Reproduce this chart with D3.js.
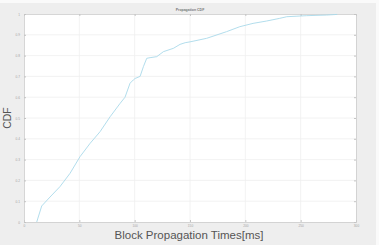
<!DOCTYPE html>
<html><head><meta charset="utf-8">
<script src="https://cdn.jsdelivr.net/npm/d3@7"></script>
<style>html,body{margin:0;padding:0;background:#fafafa;}svg{display:block;}</style>
</head><body>
<svg id="c" width="379" height="245"></svg>
<script>
const titleText = "Propagation CDF";
const xLabel = "Block Propagation Times[ms]";
const yLabel = "CDF";
const xTicks = [0, 50, 100, 150, 200, 250, 300];
const yTicks = [0, 0.1, 0.2, 0.3, 0.4, 0.5, 0.6, 0.7, 0.8, 0.9, 1];
const timesMs = [11.5, 16, 23.5, 32.5, 41.6, 50.6, 59.7, 68.7, 77.8, 86.8, 91.3, 95.8, 98.8, 100.4, 104.9, 107.9, 110.9, 113.9, 120, 126, 135, 141, 145.6, 150, 165, 183, 195, 207, 219, 231, 237.5, 255.5, 273.6, 283];
const cdfValues = [0, 0.077, 0.12, 0.17, 0.234, 0.314, 0.378, 0.434, 0.506, 0.57, 0.60, 0.667, 0.683, 0.69, 0.70, 0.747, 0.787, 0.79, 0.795, 0.819, 0.835, 0.854, 0.862, 0.866, 0.883, 0.915, 0.939, 0.955, 0.966, 0.979, 0.987, 0.992, 0.995, 0.998];

const svg = d3.select("#c");
svg.append("rect").attr("x",0).attr("y",3).attr("width",376).attr("height",242).attr("fill","#eeeeee");
const m = {l:24, t:14, r:356, b:222};
const x = d3.scaleLinear().domain([0,300]).range([m.l, m.r]);
const y = d3.scaleLinear().domain([0,1]).range([m.b, m.t]);
svg.append("rect").attr("x",m.l).attr("y",m.t).attr("width",m.r-m.l).attr("height",m.b-m.t).attr("fill","#ffffff");

// grid
svg.append("g").selectAll("line").data(xTicks.slice(1,-1)).join("line")
  .attr("x1",d=>x(d)).attr("x2",d=>x(d)).attr("y1",m.t).attr("y2",m.b)
  .attr("stroke","#efefef").attr("stroke-width",0.8);
svg.append("g").selectAll("line").data(yTicks.slice(1,-1)).join("line")
  .attr("y1",d=>y(d)).attr("y2",d=>y(d)).attr("x1",m.l).attr("x2",m.r)
  .attr("stroke","#efefef").attr("stroke-width",0.8);

// axes
const ax = (g, axis) => { g.call(axis); g.select(".domain").attr("stroke","#cccccc").attr("stroke-width",0.8); g.selectAll(".tick line").attr("stroke","#c4c4c4"); g.selectAll("text").attr("fill","#a4a4a4").attr("font-size","3.2px").attr("font-family","Liberation Sans, Arial, sans-serif"); };
svg.append("g").attr("transform",`translate(0,${m.b})`).call(g=>ax(g, d3.axisBottom(x).tickValues(xTicks).tickSize(-2).tickPadding(3).tickFormat(d3.format("d"))));
svg.append("g").attr("transform",`translate(0,${m.t})`).call(g=>ax(g, d3.axisTop(x).tickValues(xTicks).tickSize(-2).tickFormat("")));
svg.append("g").attr("transform",`translate(${m.l},0)`).call(g=>ax(g, d3.axisLeft(y).tickValues(yTicks).tickSize(-2).tickPadding(4).tickFormat(d=>d===0?"0":d===1?"1":d3.format(".1f")(d))));
svg.append("g").attr("transform",`translate(${m.r},0)`).call(g=>ax(g, d3.axisRight(y).tickValues(yTicks).tickSize(-2).tickFormat("")));

// curve
svg.append("path").datum(d3.zip(timesMs, cdfValues))
  .attr("fill","none").attr("stroke","#a9d9ea").attr("stroke-width",0.9)
  .attr("d", d3.line().x(d=>x(d[0])).y(d=>y(d[1])));

// labels
svg.append("text").attr("x",190).attr("y",11).attr("text-anchor","middle")
  .attr("font-size","3.5px").attr("font-weight","bold").attr("fill","#777").attr("font-family","Liberation Sans, Arial, sans-serif").text(titleText);
svg.append("text").attr("x",189).attr("y",239).attr("text-anchor","middle")
  .attr("font-size","11.5px").attr("fill","#555").attr("font-family","Liberation Sans, Arial, sans-serif").text(xLabel);
svg.append("text").attr("transform","translate(11,118) rotate(-90)").attr("text-anchor","middle")
  .attr("font-size","10.5px").attr("fill","#555").attr("font-family","Liberation Sans, Arial, sans-serif").text(yLabel);
</script>
</body></html>
